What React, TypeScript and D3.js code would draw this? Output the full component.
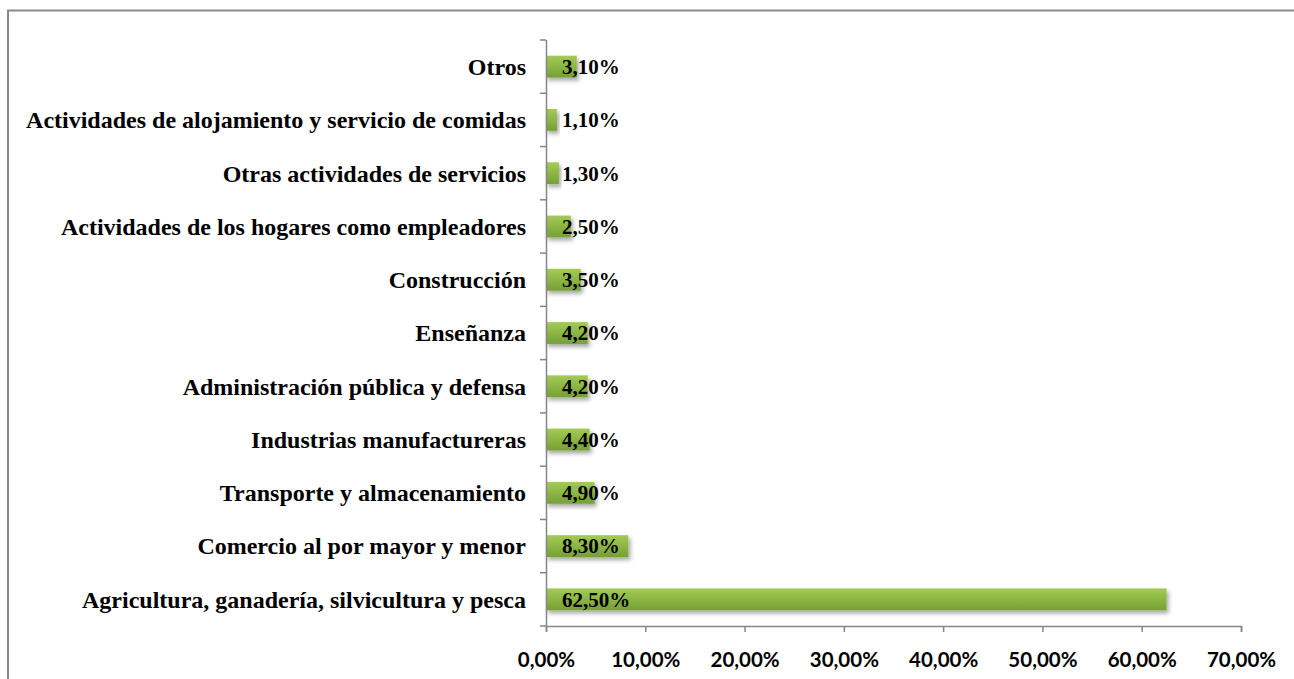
import * as d3 from 'd3';
import React, { useEffect, useRef } from 'react';

// categories listed top to bottom
const categories = [
  'Otros',
  'Actividades de alojamiento y servicio de comidas',
  'Otras actividades de servicios',
  'Actividades de los hogares como empleadores',
  'Construcción',
  'Enseñanza',
  'Administración pública y defensa',
  'Industrias manufactureras',
  'Transporte y almacenamiento',
  'Comercio al por mayor y menor',
  'Agricultura, ganadería, silvicultura y pesca',
];
const values = [3.1, 1.1, 1.3, 2.5, 3.5, 4.2, 4.2, 4.4, 4.9, 8.3, 62.5];
const xTicks = [0, 10, 20, 30, 40, 50, 60, 70];

const fmt = (v: number) => v.toFixed(2).replace('.', ',') + '%';
const serif = "'Liberation Serif', 'Times New Roman', Times, serif";

const App = () => {
  const ref = useRef<SVGSVGElement | null>(null);

  useEffect(() => {
    if (!ref.current) return;
    const W = 1294, H = 679;
    const margin = { top: 40, right: 53, bottom: 53, left: 546 };
    const width = W - margin.left - margin.right;
    const height = H - margin.top - margin.bottom;

    const svg = d3.select(ref.current);
    svg.selectAll('*').remove();

    const defs = svg.append('defs');
    const grad = defs.append('linearGradient')
      .attr('id', 'barGrad').attr('x1', 0).attr('y1', 0).attr('x2', 0).attr('y2', 1);
    grad.append('stop').attr('offset', '0%').attr('stop-color', '#a3cb55');
    grad.append('stop').attr('offset', '100%').attr('stop-color', '#76a034');
    const filt = defs.append('filter').attr('id', 'shadow')
      .attr('x', '-10%').attr('y', '-50%').attr('width', '130%').attr('height', '220%');
    filt.append('feDropShadow')
      .attr('dx', 2).attr('dy', 3).attr('stdDeviation', 2)
      .attr('flood-color', '#000').attr('flood-opacity', 0.35);

    // outer frame (cut off at right and bottom)
    svg.append('rect')
      .attr('x', 8).attr('y', 10.5).attr('width', 1400).attr('height', 800)
      .attr('fill', 'none').attr('stroke', '#898989').attr('stroke-width', 2);

    const g = svg.append('g').attr('transform', `translate(${margin.left},${margin.top})`);

    const x = d3.scaleLinear().domain([0, 70]).range([0, width]);
    const y = d3.scaleBand().domain(categories).range([0, height]).paddingInner(0.59).paddingOuter(0.295);

    // bars
    g.selectAll('rect.bar')
      .data(categories)
      .join('rect')
      .attr('class', 'bar')
      .attr('x', 0)
      .attr('y', d => y(d)!)
      .attr('width', (_, i) => x(values[i]))
      .attr('height', y.bandwidth())
      .attr('fill', 'url(#barGrad)')
      .attr('filter', 'url(#shadow)');

    // value labels
    g.selectAll('text.val')
      .data(categories)
      .join('text')
      .attr('class', 'val')
      .attr('x', 16)
      .attr('y', d => y(d)! + y.bandwidth() / 2)
      .attr('dy', '0.35em')
      .style('font-family', serif)
      .style('font-weight', 'bold')
      .style('font-size', '21px')
      .attr('fill', '#000')
      .text((_, i) => fmt(values[i]));

    // y axis
    const axisColor = '#868686';
    const step = height / categories.length;
    const yAx = g.append('g');
    yAx.append('line').attr('x1', 0.5).attr('x2', 0.5).attr('y1', 0).attr('y2', height)
      .attr('stroke', axisColor).attr('stroke-width', 1.5);
    yAx.selectAll('line.tk')
      .data(d3.range(categories.length + 1))
      .join('line')
      .attr('class', 'tk')
      .attr('x1', -6).attr('x2', 0)
      .attr('y1', i => i * step).attr('y2', i => i * step)
      .attr('stroke', axisColor).attr('stroke-width', 1.5);
    yAx.selectAll('text')
      .data(categories)
      .join('text')
      .attr('x', -20)
      .attr('y', d => y(d)! + y.bandwidth() / 2)
      .attr('dy', '0.35em')
      .attr('text-anchor', 'end')
      .style('font-family', serif)
      .style('font-weight', 'bold')
      .style('font-size', '24px')
      .attr('fill', '#000')
      .text(d => d);

    // x axis
    const xAx = g.append('g')
      .attr('transform', `translate(0,${height})`)
      .call(d3.axisBottom(x).tickValues(xTicks).tickSize(6).tickPadding(20).tickFormat(d => fmt(+d)));
    xAx.select('.domain').attr('stroke', axisColor).attr('stroke-width', 1.5);
    xAx.selectAll('.tick line').attr('stroke', axisColor).attr('stroke-width', 1.5);
    xAx.selectAll('.tick text')
      .style('font-family', 'Lato, "Open Sans", sans-serif')
      .style('font-weight', 'bold')
      .style('font-size', '20.5px')
      .attr('fill', '#000');
  }, []);

  return (
    <svg
      ref={ref}
      width={1294}
      height={679}
      style={{ position: 'absolute', left: 0, top: 0, background: '#fff' }}
    />
  );
};

export default App;
